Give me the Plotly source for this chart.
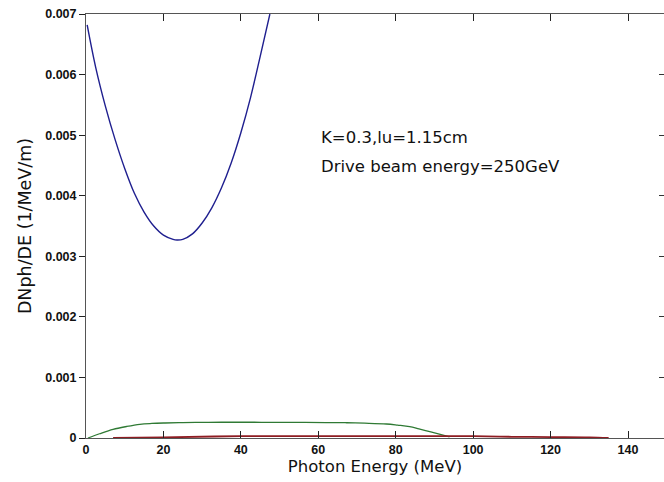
import plotly.graph_objects as go

# Data
blue_x = [0.3, 2.5, 5.0, 7.5, 10.0, 12.5, 15.0, 17.5, 20.0, 22.5, 23.5, 25.0, 27.5, 30.0, 32.5, 35.0, 37.5, 40.0, 42.5, 45.0, 47.5]
blue_y = [0.00682, 0.00612, 0.00548, 0.00493, 0.00445, 0.00404, 0.00373, 0.00350, 0.00335, 0.00328, 0.00327, 0.00328, 0.00337, 0.00355, 0.00380, 0.00413, 0.00454, 0.00504, 0.00562, 0.00630, 0.00700]

green_x = [0.5, 3.5, 7.0, 10.5, 13.9, 17.0, 20.4, 25.0, 30.0, 35.0, 43.0, 47.5, 55.0, 62.0, 67.3, 72.0, 77.6, 80.5, 83.6, 86.0, 88.8, 91.5, 93.9]
green_y = [0.0, 0.00007, 0.000143, 0.00019, 0.000226, 0.00024, 0.000248, 0.000255, 0.000258, 0.00026, 0.00026, 0.000258, 0.000258, 0.000255, 0.000252, 0.000245, 0.000231, 0.000212, 0.000187, 0.00015, 0.000105, 0.00006, 0.00002]

red_x = [7.0, 20.0, 40.0, 60.0, 80.0, 100.0, 110.0, 120.0, 130.0, 135.0]
red_y = [0.0, 0.00001, 0.00003, 0.00003, 0.00003, 0.00003, 0.00002, 0.000015, 0.00001, 0.0]

x_ticks = [0, 20, 40, 60, 80, 100, 120, 140]
y_ticks = [0, 0.001, 0.002, 0.003, 0.004, 0.005, 0.006, 0.007]
y_ticktext = ["0", "0.001", "0.002", "0.003", "0.004", "0.005", "0.006", "0.007"]

x_range = [0, 149.3]
y_range = [0, 0.007]

fig = go.Figure()
fig.add_trace(go.Scatter(x=green_x, y=green_y, mode="lines",
                         line=dict(color="#2f7a34", width=1.3, shape="spline"), showlegend=False))
fig.add_trace(go.Scatter(x=red_x, y=red_y, mode="lines",
                         line=dict(color="#8e1c22", width=1.8, shape="spline"), showlegend=False))
fig.add_trace(go.Scatter(x=blue_x, y=blue_y, mode="lines",
                         line=dict(color="#1f1f8f", width=1.4, shape="spline"), showlegend=False))
# invisible trace to host the right-side tick axis
fig.add_trace(go.Scatter(x=[None], y=[None], yaxis="y2", showlegend=False, hoverinfo="skip"))

tickfont = dict(family="Liberation Sans, Arial, sans-serif", size=12.5, color="#111", weight="bold")
textfont = "DejaVu Sans, Liberation Sans, sans-serif"

fig.update_layout(
    width=664, height=482,
    margin=dict(l=86, r=0, t=14, b=44),
    paper_bgcolor="white", plot_bgcolor="white",
    xaxis=dict(range=x_range, tickvals=x_ticks, ticks="inside", ticklen=7, tickwidth=1.2,
               tickcolor="#222", showline=True, linecolor="#555", linewidth=1, mirror="ticks",
               showgrid=False, zeroline=False, tickfont=tickfont,
               title=dict(text="Photon Energy (MeV)", standoff=3,
                          font=dict(family=textfont, size=16.5, color="#111"))),
    yaxis=dict(range=y_range, tickvals=y_ticks, ticktext=y_ticktext, ticks="outside", ticklen=6,
               tickwidth=1.2, tickcolor="#222", showline=True, linecolor="#555", linewidth=1,
               showgrid=False, zeroline=False, tickfont=tickfont,
               title=dict(text="DNph/DE (1/MeV/m)", standoff=9,
                          font=dict(family=textfont, size=17.5, color="#111"))),
    yaxis2=dict(range=y_range, tickvals=y_ticks, overlaying="y", side="right", ticks="inside",
                ticklen=5, tickwidth=1.2, tickcolor="#333", showline=False, showgrid=False,
                zeroline=False, showticklabels=False),
)

fig.add_annotation(x=319, y=137, xref="paper", yref="paper", text="K=0.3,lu=1.15cm",
                   showarrow=False, xanchor="left", yanchor="middle",
                   font=dict(family=textfont, size=16.5, color="#111"))
fig.add_annotation(x=319, y=167, xref="paper", yref="paper", text="Drive beam energy=250GeV",
                   showarrow=False, xanchor="left", yanchor="middle",
                   font=dict(family=textfont, size=16.5, color="#111"))

# convert pixel-anchored annotation positions to paper coords
pw = 664 - 86
ph = 482 - 14 - 44
for ann in fig.layout.annotations:
    ann.x = (ann.x - 86) / pw
    ann.y = (482 - 44 - ann.y) / ph

fig.write_html("out.html")
